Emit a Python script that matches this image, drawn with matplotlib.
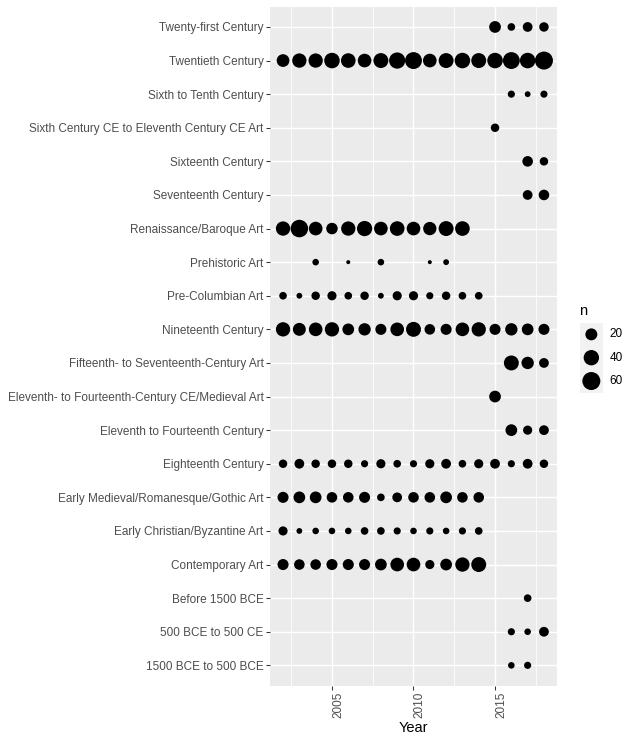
import numpy as np
import matplotlib
matplotlib.use("Agg")
import matplotlib.pyplot as plt

plt.rcParams['font.family'] = ['Liberation Sans', 'DejaVu Sans']

years = list(range(2002, 2019))

categories = [
    "1500 BCE to 500 BCE",
    "500 BCE to 500 CE",
    "Before 1500 BCE",
    "Contemporary Art",
    "Early Christian/Byzantine Art",
    "Early Medieval/Romanesque/Gothic Art",
    "Eighteenth Century",
    "Eleventh to Fourteenth Century",
    "Eleventh- to Fourteenth-Century CE/Medieval Art",
    "Fifteenth- to Seventeenth-Century Art",
    "Nineteenth Century",
    "Pre-Columbian Art",
    "Prehistoric Art",
    "Renaissance/Baroque Art",
    "Seventeenth Century",
    "Sixteenth Century",
    "Sixth Century CE to Eleventh Century CE Art",
    "Sixth to Tenth Century",
    "Twentieth Century",
    "Twenty-first Century",
]

# counts per year 2002..2018 (0 = no point)
n_1500bce = [0]*14 + [3, 4, 0]
n_500bce = [0]*14 + [4, 3, 11]
n_before1500 = [0]*15 + [5, 0]
n_contemporary = [16, 14, 14, 16, 16, 16, 19, 29, 29, 9, 19, 33, 37, 0, 0, 0, 0]
n_early_christian = [9, 2, 3, 3, 3, 5, 5, 4, 3, 4, 3, 4, 5, 0, 0, 0, 0]
n_early_medieval = [16, 19, 19, 14, 14, 16, 5, 11, 14, 14, 19, 14, 14, 0, 0, 0, 0]
n_eighteenth = [7, 11, 7, 7, 7, 4, 9, 5, 4, 9, 11, 5, 9, 11, 4, 11, 7]
n_eleventh_fourteenth = [0]*14 + [19, 9, 11]
n_eleventh_ce_medieval = [0]*13 + [19, 0, 0, 0]
n_fifteenth = [0]*14 + [37, 22, 11]
n_nineteenth = [33, 25, 29, 33, 19, 22, 16, 29, 37, 14, 16, 29, 33, 16, 22, 19, 16]
n_precolumbian = [5, 2, 7, 9, 5, 7, 2, 9, 9, 4, 7, 5, 5, 0, 0, 0, 0]
n_prehistoric = [0, 0, 3, 0, 1, 0, 3, 0, 0, 1, 2, 0, 0, 0, 0, 0, 0]
n_renaissance = [33, 56, 29, 18, 33, 39, 29, 35, 29, 27, 37, 35, 0, 0, 0, 0, 0]
n_seventeenth = [0]*15 + [11, 14]
n_sixteenth = [0]*15 + [14, 7]
n_sixth_ce = [0]*13 + [7, 0, 0, 0]
n_sixth_tenth = [0]*14 + [4, 2, 4]
n_twentieth = [24, 33, 33, 41, 35, 29, 37, 46, 51, 29, 37, 41, 37, 41, 51, 41, 60]
n_twentyfirst = [0]*13 + [19, 5, 11, 10]

rows = [n_1500bce, n_500bce, n_before1500, n_contemporary, n_early_christian,
        n_early_medieval, n_eighteenth, n_eleventh_fourteenth, n_eleventh_ce_medieval,
        n_fifteenth, n_nineteenth, n_precolumbian, n_prehistoric, n_renaissance,
        n_seventeenth, n_sixteenth, n_sixth_ce, n_sixth_tenth, n_twentieth, n_twentyfirst]

legend_values = [20, 40, 60]

xs, ys, ns = [], [], []
for i, row in enumerate(rows):
    for yr, v in zip(years, row):
        if v > 0:
            xs.append(yr); ys.append(i); ns.append(v)
ns = np.array(ns, dtype=float)
nmin, nmax = ns.min(), ns.max()

def area(n):
    n = np.asarray(n, dtype=float)
    d_px = 4.0 + 14.0 * np.sqrt(np.clip((n - nmin) / (nmax - nmin), 0, 1))
    return (d_px * 0.72) ** 2

W, H = 638, 745
fig = plt.figure(figsize=(W/100, H/100), dpi=100)
ax = fig.add_axes([270/W, 1-685.5/H, (557-270)/W, (685.5-6.8)/H])
ax.set_facecolor('#EBEBEB')
for s in ax.spines.values():
    s.set_visible(False)

ax.scatter(xs, ys, s=area(ns), color='black', linewidths=0, zorder=3)

ax.set_xlim(2001.2, 2018.8)
ax.set_ylim(-0.6, len(categories) - 0.4)
ax.set_xticks([2005, 2010, 2015])
ax.set_xticks([2002.5, 2007.5, 2012.5, 2017.5], minor=True)
ax.set_yticks(range(len(categories)))
ax.set_yticklabels(categories)
ax.set_xticklabels(['2005', '2010', '2015'], rotation=90, ha='left')
ax.grid(True, which='major', color='white', linewidth=1.05, zorder=1)
ax.grid(True, which='minor', axis='x', color='white', linewidth=0.55, zorder=1)
ax.set_axisbelow(True)
ax.tick_params(which='major', length=2.64, width=0.75, color='#333333',
               labelsize=8.45, labelcolor='#4D4D4D', pad=2.0)
ax.tick_params(which='minor', length=0)
ax.set_xlabel('Year', fontsize=10.56, color='black', labelpad=2)

# legend
lax = fig.add_axes([580/W, 1-392.7/H, 22.7/W, 70/H])
lax.set_facecolor('#F2F2F2')
for s in lax.spines.values():
    s.set_visible(False)
lax.set_xticks([]); lax.set_yticks([])
lax.set_xlim(0, 1); lax.set_ylim(-0.5, 2.5)
lax.scatter([0.5]*3, [2, 1, 0], s=area(legend_values), color='black', linewidths=0)
for k, v in enumerate(legend_values):
    lax.text(1.3, 2 - k, str(v), fontsize=8.45, va='center', ha='left', color='black')
fig.text(579/W, 1-311/H, 'n', fontsize=10.56, ha='left', va='center')

fig.savefig('out.png', dpi=100)
